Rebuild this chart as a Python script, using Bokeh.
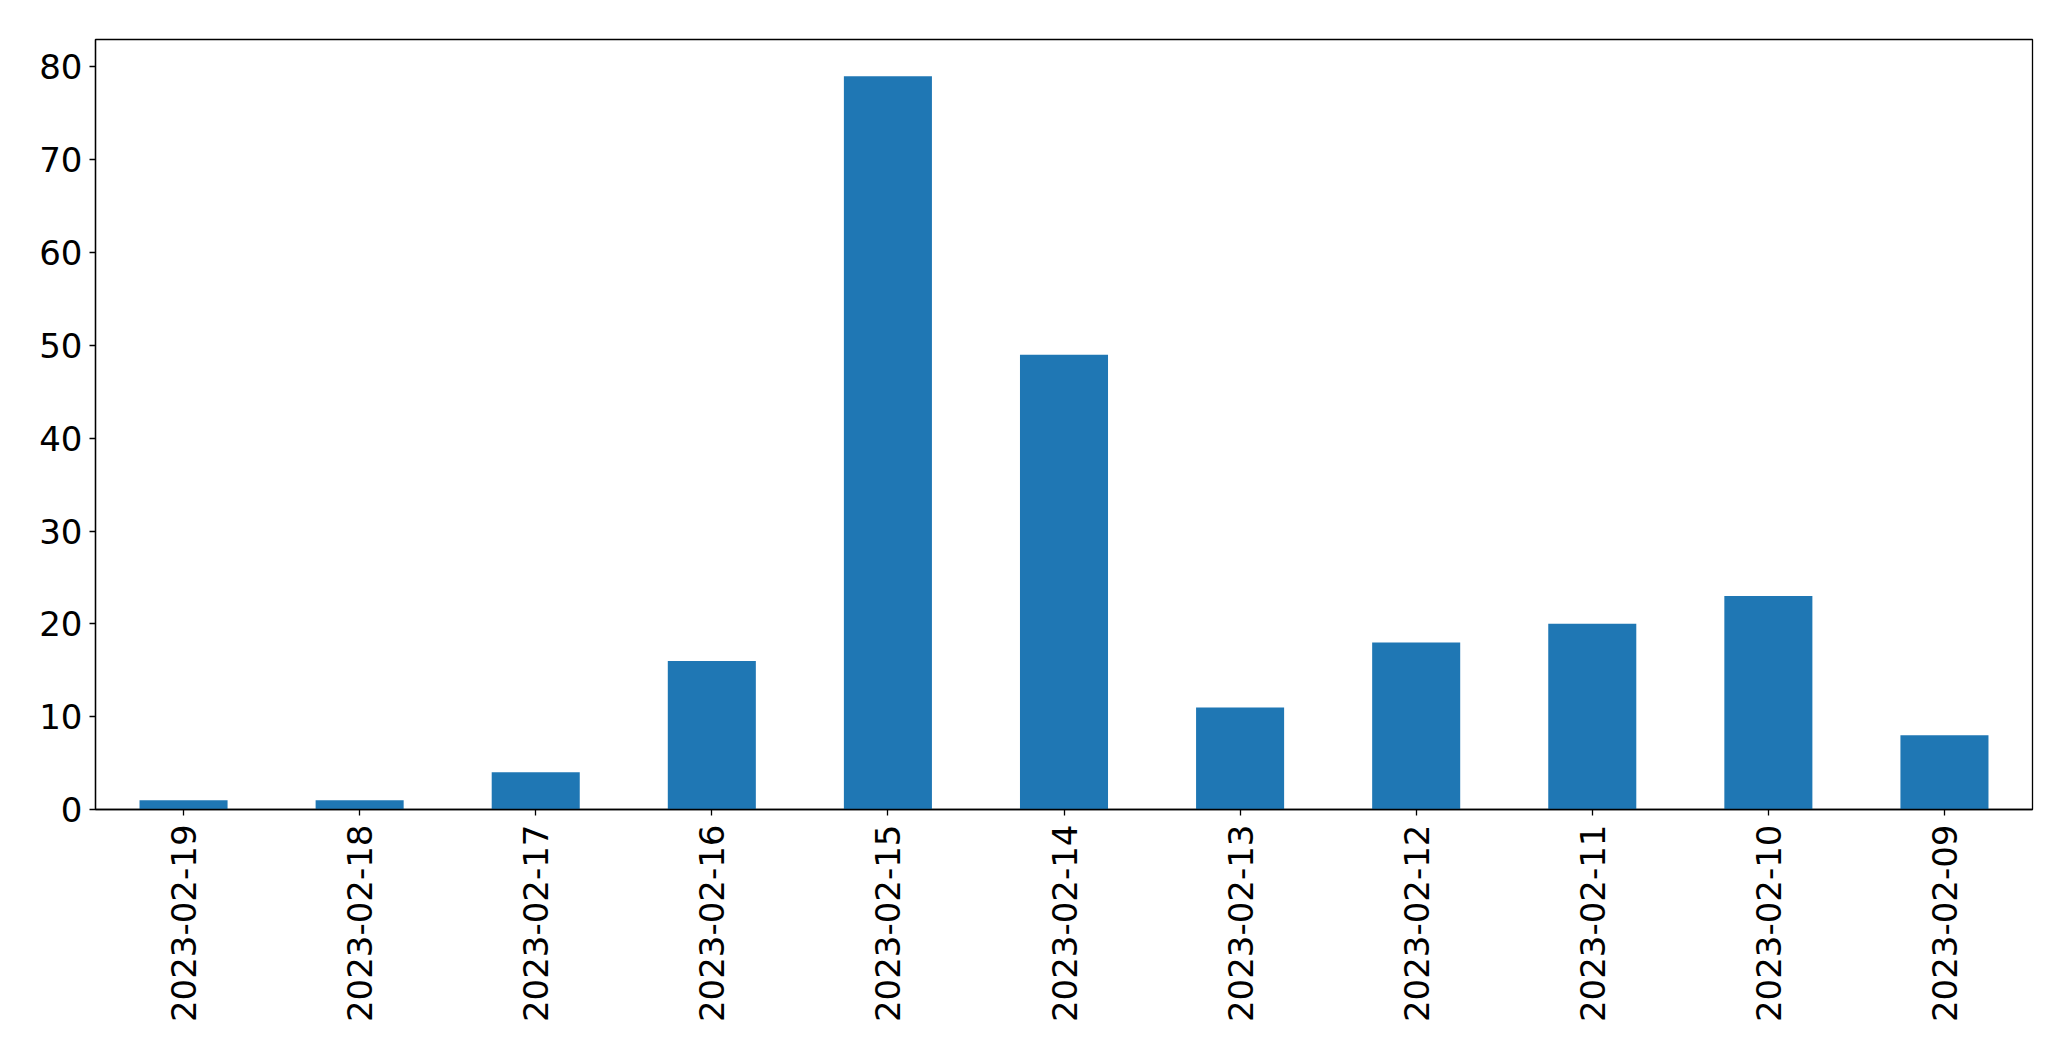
import math
from bokeh.plotting import figure
from bokeh.models import FactorRange, Range1d, ColumnDataSource
from bokeh.embed import file_html
from bokeh.resources import INLINE

dates = ["2023-02-19", "2023-02-18", "2023-02-17", "2023-02-16", "2023-02-15",
         "2023-02-14", "2023-02-13", "2023-02-12", "2023-02-11", "2023-02-10", "2023-02-09"]
counts = [1, 1, 4, 16, 79, 49, 11, 18, 20, 23, 8]
y_ticks = [0, 10, 20, 30, 40, 50, 60, 70, 80]

src = ColumnDataSource(data=dict(date=dates, count=counts))

p = figure(x_range=FactorRange(*dates), y_range=Range1d(0, max(counts) * 1.05),
           width=2055, height=1045, output_backend="svg", toolbar_location=None,
           min_border_left=95, min_border_right=23, min_border_top=39, min_border_bottom=236)

p.vbar(x="date", top="count", width=0.5, source=src, color="#1f77b4", line_color=None)

p.xgrid.visible = False
p.ygrid.visible = False
p.outline_line_color = "black"
p.outline_line_width = 1.3
p.outline_line_alpha = 1.0

for ax in (p.xaxis, p.yaxis):
    ax.axis_line_color = "black"
    ax.axis_line_width = 1.3
    ax.major_tick_line_color = "black"
    ax.major_tick_line_width = 1.3
    ax.major_tick_out = 6
    ax.major_tick_in = 0
    ax.minor_tick_line_color = None
    ax.major_label_text_font = "DejaVu Sans"
    ax.major_label_text_font_size = "34px"
    ax.major_label_text_color = "black"

p.yaxis.ticker = y_ticks
p.yaxis.major_label_standoff = 7
p.xaxis.major_label_orientation = math.pi / 2
p.xaxis.major_label_standoff = 9

open("out.html", "w").write(file_html(p, INLINE))
